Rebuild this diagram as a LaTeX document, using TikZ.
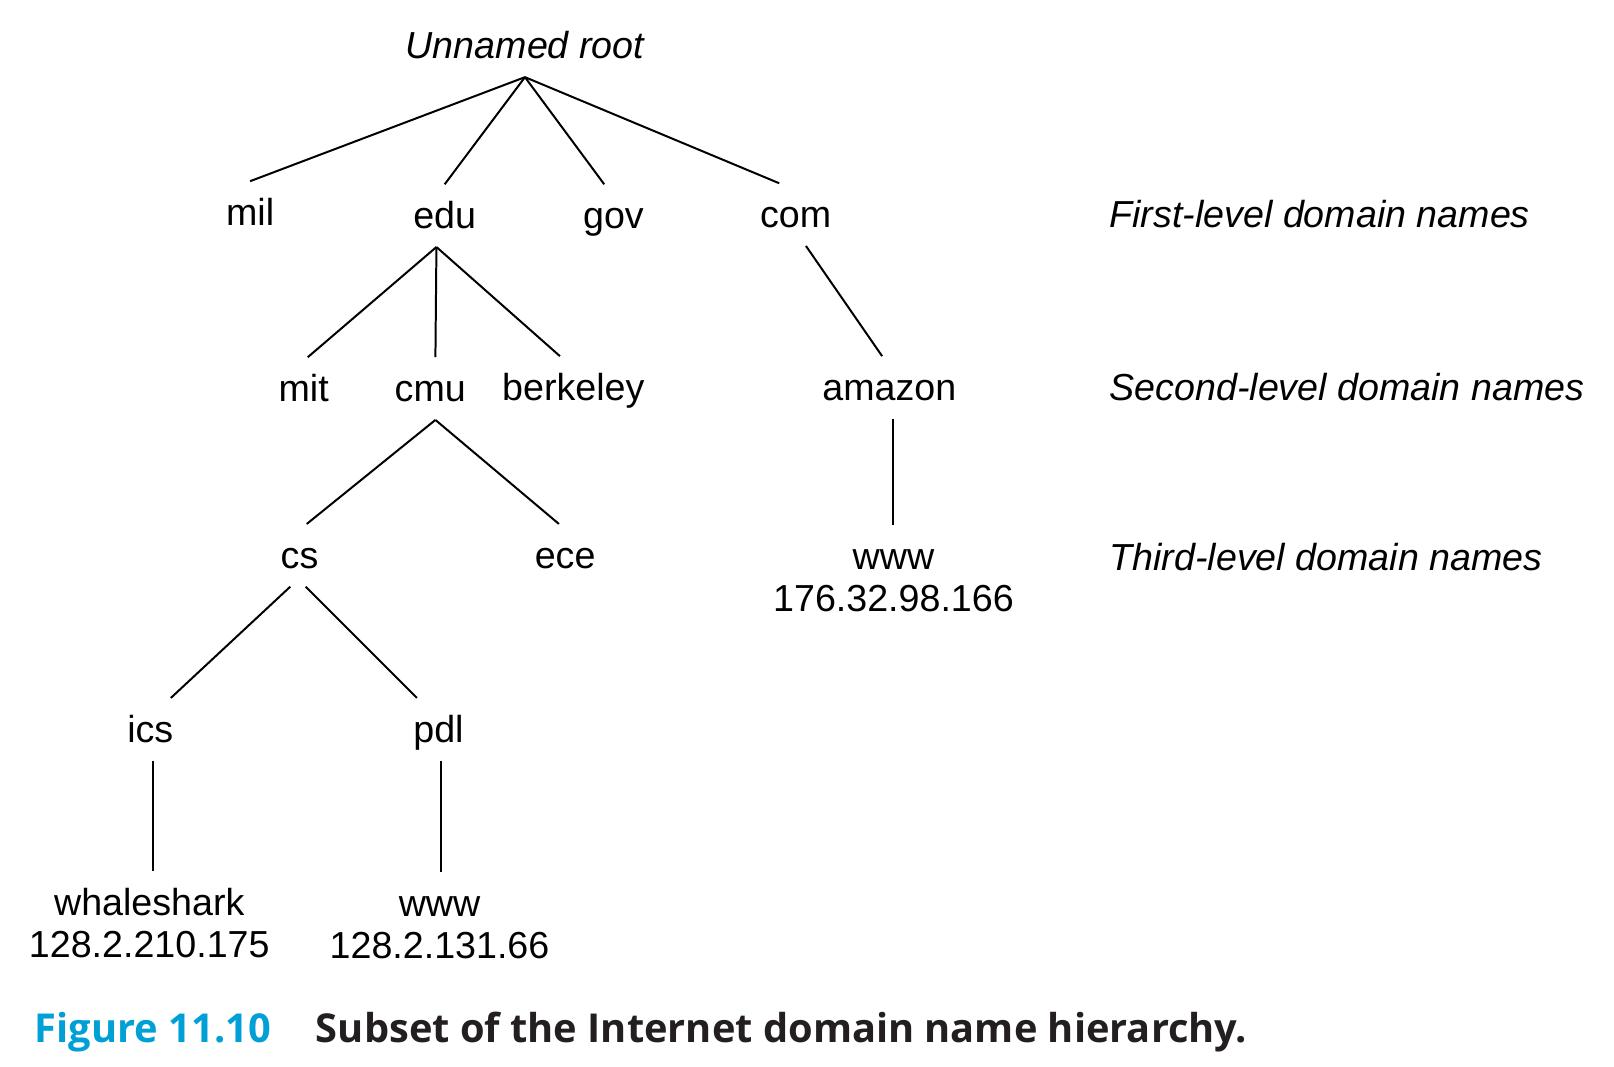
\documentclass[tikz,border=0pt]{standalone}
\usepackage{fontspec}
\setmainfont{Liberation Sans}
\newfontfamily\capfont{Open Sans}
\usepackage{xcolor}
\definecolor{figblue}{RGB}{0,160,214}
\definecolor{capblack}{RGB}{35,31,32}
\newcommand\dnsize{\fontsize{10.4}{12.5}\selectfont}

\begin{document}
\begin{tikzpicture}[x=0.1mm,y=-0.1mm,line width=0.55pt,
  dn/.style={font=\dnsize,anchor=base,inner xsep=0pt,inner ysep=1.7mm,text height=2.5mm,text depth=0pt},
  lvl/.style={font=\dnsize\itshape,anchor=base west,inner sep=0pt},
  captionlbl/.style={font=\capfont\bfseries\fontsize{11}{13}\selectfont,anchor=base west,inner sep=0pt}]
\useasboundingbox (0,0) rectangle (1568,1036);
\node[dn,font=\dnsize\itshape] (root) at (510,57) {Unnamed root};
\node[dn] (mil) at (243,219) {mil};
\node[dn] (edu) at (432,222) {edu};
\node[dn] (gov) at (596,222) {gov};
\node[dn] (com) at (773,221) {com};
\node[dn] (mit) at (295,390) {mit};
\node[dn] (cmu) at (418,390) {cmu};
\node[dn] (berkeley) at (557,389) {berkeley};
\node[dn] (amazon) at (864,389) {amazon};
\node[dn] (cs) at (291,552) {cs};
\node[dn] (ece) at (549,552) {ece};
\node[dn] (amzwww) at (868,553) {www};
\node[dn] (amzip) at (868,594) {176.32.98.166};
\node[dn] (ics) at (146,721) {ics};
\node[dn] (pdl) at (426,721) {pdl};
\node[dn] (whale) at (145,889) {whaleshark};
\node[dn] (whaleip) at (145,930) {128.2.210.175};
\node[dn] (pdlwww) at (427,890) {www};
\node[dn] (pdlip) at (427,931) {128.2.131.66};
\node[lvl] (first) at (1077,221) {First-level domain names};
\node[lvl] (second) at (1077,389) {Second-level domain names};
\node[lvl] (third) at (1077,554) {Third-level domain names};
\node[captionlbl,text=figblue] (figno) at (33,1013) {Figure 11.10};
\node[captionlbl,text=capblack] (captext) at (306,1013) {Subset of the Internet domain name hierarchy.};
\coordinate (edufork) at ([xshift=-0.8mm]edu.south);
\coordinate (cmufork) at ([xshift=0.5mm]cmu.south);
\draw (root.south) -- (mil.north);
\draw (root.south) -- (edu.north);
\draw (root.south) -- ([xshift=-0.9mm]gov.north);
\draw (root.south) -- ([xshift=-1.6mm]com.north);
\draw (edufork) -- ([xshift=0.4mm]mit.north);
\draw (edufork) -- ([xshift=0.5mm]cmu.north);
\draw (edufork) -- ([xshift=-1.3mm]berkeley.north);
\draw ([xshift=1mm]com.south) -- ([xshift=-0.7mm]amazon.north);
\draw (cmufork) -- ([xshift=0.7mm]cs.north);
\draw (cmufork) -- ([xshift=-0.6mm]ece.north);
\draw ([xshift=-0.9mm]cs.south) -- ([xshift=2mm]ics.north);
\draw ([xshift=0.6mm]cs.south) -- ([xshift=-2.1mm]pdl.north);
\draw ([xshift=0.3mm]ics.south) -- ([xshift=0.3mm]ics.south |- whale.north);
\draw ([xshift=0.2mm]pdl.south) -- ([xshift=0.2mm]pdl.south |- pdlwww.north);
\draw ([xshift=0.4mm]amazon.south) -- ([xshift=0.4mm]amazon.south |- amzwww.north);
\end{tikzpicture}
\end{document}
